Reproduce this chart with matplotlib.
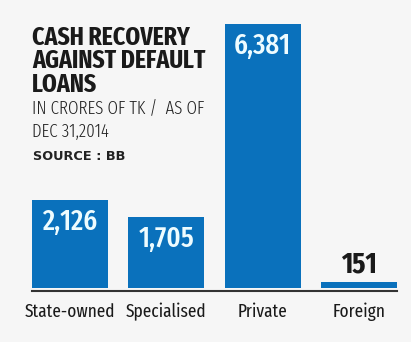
import matplotlib.pyplot as plt
from matplotlib.lines import Line2D

categories = ['State-owned', 'Specialised', 'Private', 'Foreign']
values = [2126, 1705, 6381, 151]
value_labels = ['2,126', '1,705', '6,381', '151']

W, H = 411, 342
xcond = ['Fira Sans Extra Condensed', 'Roboto Condensed', 'DejaVu Sans']

fig = plt.figure(figsize=(W / 100, H / 100), dpi=100)
fig.patch.set_facecolor('#f6f6f6')

# bar area: baseline at y=288px, tallest bar top at y=24px
ax = fig.add_axes([32 / W, (H - 288) / H, (397 - 32) / W, (288 - 24) / H])
ax.set_facecolor('none')
x = range(len(categories))
ax.bar(x, values, width=0.79, color='#0a71bc')
ax.set_xlim(-0.395, len(categories) - 1 + 0.395)
ax.set_ylim(0, max(values))
for s in ax.spines.values():
    s.set_visible(False)
ax.set_xticks([])
ax.set_yticks([])
fig.add_artist(Line2D([32 / W, 397 / W], [1 - 290.5 / H] * 2, color='#333333', lw=1.5))

for i, (v, lab) in enumerate(zip(values, value_labels)):
    if v > 1000:
        ax.annotate(lab, (i, v), xytext=(0, -30), textcoords='offset pixels',
                    ha='center', va='baseline', color='#eefcff', fontsize=21,
                    family=xcond, fontweight=500)
    else:
        ax.annotate(lab, (i, v), xytext=(0, 9), textcoords='offset pixels',
                    ha='center', va='baseline', color='#1a1a1a', fontsize=21,
                    family=xcond, fontweight=700)
    ax.annotate(categories[i], (i, 0), xytext=(0, -29), textcoords='offset pixels',
                ha='center', va='baseline', color='#1a1a1a', fontsize=13.5,
                family=xcond)

title_lines = ['CASH RECOVERY', 'AGAINST DEFAULT', 'LOANS']
for k, line in enumerate(title_lines):
    fig.text(32 / W, 1 - (45 + 23.5 * k) / H, line, ha='left', va='baseline',
             fontsize=18.5, family=xcond, fontweight=700, color='#1a1a1a')
sub_lines = ['IN CRORES OF TK /  AS OF', 'DEC 31,2014']
for k, line in enumerate(sub_lines):
    fig.text(32 / W, 1 - (113 + 24 * k) / H, line, ha='left', va='baseline',
             fontsize=13.2, family=xcond, fontweight=300, color='#222222')
fig.text(33 / W, 1 - 160 / H, 'SOURCE : BB', ha='left', va='baseline',
         fontsize=9.3, fontweight='bold', color='#222222')

fig.savefig('out.png', dpi=100, facecolor=fig.get_facecolor())
